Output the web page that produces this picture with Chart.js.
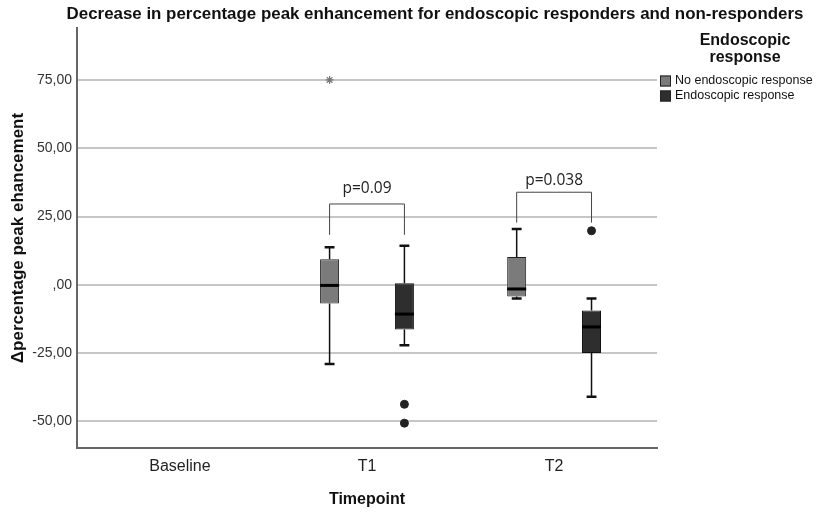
<!DOCTYPE html>
<html>
<head>
<meta charset="utf-8">
<script src="https://cdn.jsdelivr.net/npm/chart.js@4"></script>
<style>
  html, body { margin: 0; padding: 0; background: #fff; }
  #wrap { width: 831px; height: 514px; }
</style>
</head>
<body>
<div id="wrap"><canvas id="myChart"></canvas></div>
<script>
// 類別與組別
const timepoints = ['Baseline', 'T1', 'T2'];
const groupNames = ['No endoscopic response', 'Endoscopic response'];
const groupColors = ['#7b7b7b', '#2e2e2e'];

// 盒鬚圖統計值（Baseline 沒有資料）
const noRespLow    = [null, -29.0, -5.0];
const noRespQ1     = [null,  -6.8, -4.3];
const noRespMedian = [null,  -0.2, -1.5];
const noRespQ3     = [null,   9.4, 10.2];
const noRespHigh   = [null,  13.8, 20.4];

const respLow    = [null, -22.1, -40.9];
const respQ1     = [null, -16.3, -24.9];
const respMedian = [null, -10.7, -15.4];
const respQ3     = [null,   0.6,  -9.4];
const respHigh   = [null,  14.3,  -5.0];

// 離群值（圓點）與極端值（星號）
const respOutlierTime = [1, 1, 2];
const respOutlierValue = [-43.7, -50.6, 19.8];
const noRespExtremeTime = [1];
const noRespExtremeValue = [75.0];

// 組間比較的 p 值與括號高度
const pTime = [1, 2];
const pText = ['p=0.09', 'p=0.038'];
const pBracketTop = [29.6, 33.9];
const pBracketFoot = [18.3, 22.8];
const pLabelValue = [35.3, 38.2];

// Y 軸刻度
const yTickValues = [-50, -25, 0, 25, 50, 75];
const yTickLabels = ['-50,00', '-25,00', ',00', '25,00', '50,00', '75,00'];

const FONT = '"Liberation Sans", Arial, sans-serif';
const groupOffset = [-0.2, 0.2];

const stats = [
    { low: noRespLow, q1: noRespQ1, med: noRespMedian, q3: noRespQ3, high: noRespHigh },
    { low: respLow, q1: respQ1, med: respMedian, q3: respQ3, high: respHigh }
];

// 盒子：浮動長條 [Q1, Q3]
function boxData(g) {
    const s = stats[g];
    const out = [];
    timepoints.forEach((_, t) => {
        if (s.q1[t] === null) return;
        out.push({ x: t + groupOffset[g], y: [s.q1[t], s.q3[t]], t: t });
    });
    return out;
}

// 鬚、端線、中位數、p 值括號
const boxPlotPlugin = {
    id: 'boxPlot',
    beforeDatasetsDraw(chart) {
        const { ctx, scales: { x, y } } = chart;
        ctx.save();
        stats.forEach((s, g) => {
            const meta = chart.getDatasetMeta(g);
            meta.data.forEach((bar, j) => {
                const t = chart.data.datasets[g].data[j].t;
                const cx = x.getPixelForValue(t + groupOffset[g]);
                const cap = bar.width * 0.26;
                ctx.strokeStyle = '#111';
                ctx.lineWidth = 1.5;
                ctx.beginPath();
                ctx.moveTo(cx, y.getPixelForValue(s.q3[t]));
                ctx.lineTo(cx, y.getPixelForValue(s.high[t]));
                ctx.moveTo(cx, y.getPixelForValue(s.q1[t]));
                ctx.lineTo(cx, y.getPixelForValue(s.low[t]));
                ctx.stroke();
                ctx.lineWidth = 2.5;
                ctx.beginPath();
                ctx.moveTo(cx - cap, y.getPixelForValue(s.high[t]));
                ctx.lineTo(cx + cap, y.getPixelForValue(s.high[t]));
                ctx.moveTo(cx - cap, y.getPixelForValue(s.low[t]));
                ctx.lineTo(cx + cap, y.getPixelForValue(s.low[t]));
                ctx.stroke();
            });
        });
        ctx.restore();
    },
    afterDatasetsDraw(chart) {
        const { ctx, scales: { x, y } } = chart;
        ctx.save();
        stats.forEach((s, g) => {
            const meta = chart.getDatasetMeta(g);
            meta.data.forEach((bar, j) => {
                const t = chart.data.datasets[g].data[j].t;
                const cx = x.getPixelForValue(t + groupOffset[g]);
                const my = y.getPixelForValue(s.med[t]);
                ctx.strokeStyle = '#000';
                ctx.lineWidth = 3;
                ctx.beginPath();
                ctx.moveTo(cx - bar.width / 2, my);
                ctx.lineTo(cx + bar.width / 2, my);
                ctx.stroke();
            });
        });

        pTime.forEach((t, i) => {
            const x0 = x.getPixelForValue(t + groupOffset[0]);
            const x1 = x.getPixelForValue(t + groupOffset[1]);
            const top = y.getPixelForValue(pBracketTop[i]);
            const foot = y.getPixelForValue(pBracketFoot[i]);
            ctx.strokeStyle = '#444';
            ctx.lineWidth = 1;
            ctx.beginPath();
            ctx.moveTo(x0, foot);
            ctx.lineTo(x0, top);
            ctx.lineTo(x1, top);
            ctx.lineTo(x1, foot);
            ctx.stroke();
            ctx.fillStyle = '#222';
            ctx.font = '15.5px "Open Sans", sans-serif';
            ctx.textAlign = 'center';
            ctx.textBaseline = 'middle';
            ctx.fillText(pText[i], (x0 + x1) / 2, y.getPixelForValue(pLabelValue[i]));
        });
        ctx.restore();
    }
};

// 標題與右側圖例
const titleLegendPlugin = {
    id: 'titleLegend',
    afterDraw(chart) {
        const { ctx, chartArea } = chart;
        ctx.save();
        ctx.fillStyle = '#111';
        ctx.textBaseline = 'middle';
        ctx.textAlign = 'center';
        ctx.font = 'bold 16.9px ' + FONT;
        ctx.fillText('Decrease in percentage peak enhancement for endoscopic responders and non-responders', 435, 14);

        const lx = chartArea.right + 3;
        const cx = (chartArea.right + chart.width) / 2;
        ctx.font = 'bold 16px ' + FONT;
        ctx.fillText('Endoscopic', cx + 1, 41);
        ctx.fillText('response', cx + 1, 58);

        ctx.textAlign = 'left';
        ctx.font = '12.5px ' + FONT;
        chart.data.datasets.slice(0, 2).forEach((ds, i) => {
            const cy = 81 + i * 15;
            ctx.fillStyle = ds.backgroundColor;
            ctx.fillRect(lx, cy - 5.5, 11, 11);
            ctx.strokeStyle = '#222';
            ctx.lineWidth = 1;
            ctx.strokeRect(lx + 0.5, cy - 5, 10, 10);
            ctx.fillStyle = '#111';
            ctx.fillText(ds.label, lx + 15, cy);
        });
        ctx.restore();
    }
};

const ctx = document.getElementById('myChart').getContext('2d');
const myChart = new Chart(ctx, {
    type: 'bar',
    data: {
        datasets: [
            {
                label: groupNames[0],
                data: boxData(0),
                backgroundColor: groupColors[0],
                borderColor: '#222',
                borderWidth: 1,
                borderSkipped: false,
                grouped: false,
                maxBarThickness: 19
            },
            {
                label: groupNames[1],
                data: boxData(1),
                backgroundColor: groupColors[1],
                borderColor: '#111',
                borderWidth: 1,
                borderSkipped: false,
                grouped: false,
                maxBarThickness: 19
            },
            {
                type: 'scatter',
                label: 'outliers',
                data: respOutlierTime.map((t, i) => ({ x: t + groupOffset[1], y: respOutlierValue[i] })),
                pointRadius: 4,
                backgroundColor: '#222',
                borderColor: '#222'
            },
            {
                type: 'scatter',
                label: 'extremes',
                data: noRespExtremeTime.map((t, i) => ({ x: t + groupOffset[0], y: noRespExtremeValue[i] })),
                pointStyle: 'star',
                pointRadius: 4,
                borderColor: '#777',
                borderWidth: 1.2
            }
        ]
    },
    options: {
        responsive: true,
        maintainAspectRatio: false,
        animation: false,
        layout: { padding: { top: 28, right: 174, left: 0, bottom: 0 } },
        plugins: {
            legend: { display: false },
            title: { display: false },
            tooltip: { enabled: false }
        },
        scales: {
            x: {
                type: 'linear',
                offset: false,
                min: -0.55,
                max: 2.55,
                afterBuildTicks: scale => { scale.ticks = timepoints.map((_, i) => ({ value: i })); },
                afterFit: scale => { scale.height = 66; },
                ticks: {
                    callback: v => timepoints[v],
                    autoSkip: false,
                    maxRotation: 0,
                    padding: 1,
                    color: '#222',
                    font: { family: FONT, size: 16 }
                },
                grid: { display: false },
                border: { display: true, color: '#666', width: 2 },
                title: {
                    display: true,
                    text: 'Timepoint',
                    color: '#111',
                    font: { family: FONT, size: 16, weight: 'bold' },
                    padding: { top: 0, bottom: 5 }
                }
            },
            y: {
                min: -59.7,
                max: 94,
                afterBuildTicks: scale => { scale.ticks = yTickValues.map(v => ({ value: v })); },
                afterFit: scale => { scale.width = 77; },
                ticks: {
                    callback: v => yTickLabels[yTickValues.indexOf(v)],
                    padding: 5,
                    color: '#333',
                    font: { family: FONT, size: 14 }
                },
                grid: { color: '#c6c6c6', lineWidth: 2, drawTicks: false },
                border: { display: true, color: '#666', width: 2 },
                title: {
                    display: true,
                    text: 'Δpercentage peak ehancement',
                    color: '#111',
                    font: { family: FONT, size: 17, weight: 'bold' },
                    padding: { top: 8, bottom: 0 }
                }
            }
        }
    },
    plugins: [boxPlotPlugin, titleLegendPlugin]
});
</script>
</body>
</html>
